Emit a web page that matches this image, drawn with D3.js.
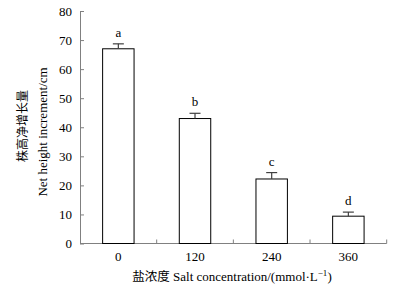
<!DOCTYPE html>
<html>
<head>
<meta charset="utf-8">
<script src="https://cdn.jsdelivr.net/npm/d3@7"></script>
<style>
  body { margin: 0; background: #fff; }
  svg { display: block; }
  .axis text { font-family: "Liberation Serif", "Times New Roman", serif; font-size: 13px; fill: #000; }
  .axis path, .axis line { stroke: #808080; }
</style>
</head>
<body>
<div id="chart"></div>
<script>
// Net height increment under four salt concentrations.
const categories = ["0", "120", "240", "360"];
const means = [67, 43, 22.2, 9.4];
const errors = [1.7, 1.8, 2.2, 1.4];
const letters = ["a", "b", "c", "d"];
const yTicks = [0, 10, 20, 30, 40, 50, 60, 70, 80];

const WIDTH = 394, HEIGHT = 287;
const LEFT = 80, RIGHT = 386.7, TOP = 11, BOTTOM = 243.5;

const svg = d3.select("#chart")
    .append("svg")
    .attr("width", WIDTH)
    .attr("height", HEIGHT);

const xScale = d3.scaleBand()
    .domain(categories)
    .range([LEFT, RIGHT])
    .padding(0);

const yScale = d3.scaleLinear()
    .domain([0, 80])
    .range([BOTTOM, TOP]);

const barWidth = xScale.bandwidth() * 0.41;

// Y axis with inward ticks.
svg.append("g")
    .attr("class", "axis")
    .attr("transform", `translate(${LEFT}, 0)`)
    .call(d3.axisLeft(yScale).tickValues(yTicks).tickSizeInner(-4).tickSizeOuter(0).tickPadding(8));

// X axis: labels only, ticks drawn at band boundaries.
const xAxis = svg.append("g")
    .attr("class", "axis")
    .attr("transform", `translate(0, ${BOTTOM})`)
    .call(d3.axisBottom(xScale).tickSize(0).tickPadding(8));
xAxis.select(".domain").attr("d", `M${LEFT},0H${RIGHT}`);

xAxis.selectAll(".boundary")
    .data(categories.slice(1).concat(["end"]))
    .join("line")
    .attr("class", "boundary")
    .attr("x1", d => d === "end" ? RIGHT : xScale(d))
    .attr("x2", d => d === "end" ? RIGHT : xScale(d))
    .attr("y1", 0)
    .attr("y2", -4)
    .attr("stroke", "#808080");

const data = categories.map((c, i) => ({ c, mean: means[i], err: errors[i], letter: letters[i] }));

// Bars.
svg.selectAll(".bar")
    .data(data)
    .join("rect")
    .attr("class", "bar")
    .attr("x", d => xScale(d.c) + xScale.bandwidth() / 2 - barWidth / 2)
    .attr("y", d => yScale(d.mean))
    .attr("width", barWidth)
    .attr("height", d => BOTTOM - yScale(d.mean))
    .attr("fill", "#fff")
    .attr("stroke", "#000")
    .attr("stroke-width", 1);

// Upper error bars.
const errG = svg.append("g").attr("stroke", "#404040").attr("stroke-width", 1.2);
errG.selectAll(".stem")
    .data(data)
    .join("line")
    .attr("x1", d => xScale(d.c) + xScale.bandwidth() / 2)
    .attr("x2", d => xScale(d.c) + xScale.bandwidth() / 2)
    .attr("y1", d => yScale(d.mean))
    .attr("y2", d => yScale(d.mean + d.err));
errG.selectAll(".cap")
    .data(data)
    .join("line")
    .attr("x1", d => xScale(d.c) + xScale.bandwidth() / 2 - 5.5)
    .attr("x2", d => xScale(d.c) + xScale.bandwidth() / 2 + 5.5)
    .attr("y1", d => yScale(d.mean + d.err))
    .attr("y2", d => yScale(d.mean + d.err));

// Significance letters.
svg.selectAll(".letter")
    .data(data)
    .join("text")
    .attr("x", d => xScale(d.c) + xScale.bandwidth() / 2)
    .attr("y", d => yScale(d.mean + d.err) - 7)
    .attr("text-anchor", "middle")
    .style("font-family", "'Liberation Serif', serif")
    .style("font-size", "13px")
    .text(d => d.letter);

// Axis titles.
const xTitle = svg.append("text")
    .attr("x", 232)
    .attr("y", 281)
    .attr("text-anchor", "middle")
    .style("font-family", "'Liberation Serif', serif")
    .style("font-size", "13px");
xTitle.append("tspan").style("font-family", "'Noto Sans CJK SC', sans-serif").style("font-size", "12.5px").text("盐浓度");
xTitle.append("tspan").text(" Salt concentration/(mmol·L");
xTitle.append("tspan").attr("dy", -5).style("font-size", "9px").text("−1");
xTitle.append("tspan").attr("dy", 5).text(")");

svg.append("text")
    .attr("transform", "translate(27, 126) rotate(-90)")
    .attr("text-anchor", "middle")
    .style("font-family", "'Noto Sans CJK SC', sans-serif")
    .style("font-size", "12px")
    .text("株高净增长量");

svg.append("text")
    .attr("transform", "translate(47, 132) rotate(-90)")
    .attr("text-anchor", "middle")
    .style("font-family", "'Liberation Serif', serif")
    .style("font-size", "13px")
    .text("Net height increment/cm");
</script>
</body>
</html>
